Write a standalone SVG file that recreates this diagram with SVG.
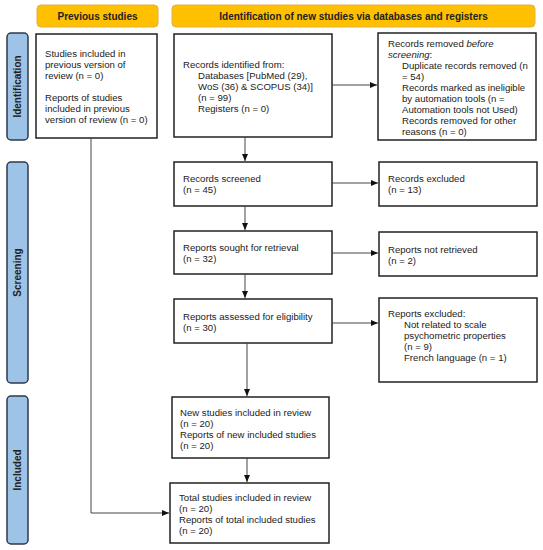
<svg xmlns="http://www.w3.org/2000/svg" width="543" height="550" viewBox="0 0 543 550">
<defs>
<marker id="ah" markerWidth="8" markerHeight="8" refX="7" refY="4" orient="auto" markerUnits="userSpaceOnUse">
<path d="M0,1 L7,4 L0,7 Z" fill="#111"/>
</marker>
<style>
.hdr{fill:#FFC000;stroke:#E2B045;stroke-width:1}
.side{fill:#9DC3E6;stroke:#2E3A4A;stroke-width:1.5}
.box{fill:#fff;stroke:#222;stroke-width:1.5}
.t{font-family:"Liberation Sans",Arial,sans-serif;font-size:9.6px;fill:#222}
.h{font-family:"Liberation Sans",Arial,sans-serif;font-size:10px;font-weight:bold;fill:#222}
.c{fill:none;stroke:#444;stroke-width:1}
</style>
</defs>
<rect width="543" height="550" fill="#fff"/>
<g id="hdr-prev"><rect class="hdr" x="37" y="5" width="121" height="22" rx="4"/><text class="h" x="97.5" y="19.5" text-anchor="middle">Previous studies</text></g>
<g id="hdr-new"><rect class="hdr" x="172" y="5" width="363" height="22" rx="4"/><text class="h" x="353.5" y="19.5" text-anchor="middle">Identification of new studies via databases and registers</text></g>
<g id="side-identification"><rect class="side" x="7" y="33" width="21" height="107" rx="4"/><text class="h" transform="translate(21,86.5) rotate(-90)" text-anchor="middle">Identification</text></g>
<g id="side-screening"><rect class="side" x="7" y="162" width="21" height="221" rx="4"/><text class="h" transform="translate(21,272.5) rotate(-90)" text-anchor="middle">Screening</text></g>
<g id="side-included"><rect class="side" x="7" y="396" width="21" height="148" rx="4"/><text class="h" transform="translate(21,470) rotate(-90)" text-anchor="middle">Included</text></g>
<g id="prev"><rect class="box" x="36" y="34" width="121" height="104"/>
<text class="t"><tspan x="45" y="57">Studies included in</tspan><tspan x="45" y="68">previous version of</tspan><tspan x="45" y="79">review (n = 0)</tspan><tspan x="45" y="101">Reports of studies</tspan><tspan x="45" y="112">included in previous</tspan><tspan x="45" y="123">version of review (n = 0)</tspan></text></g>
<g id="identified"><rect class="box" x="174" y="34" width="158" height="103"/>
<text class="t"><tspan x="183" y="68">Records identified from:</tspan><tspan x="198" y="79">Databases [PubMed (29),</tspan><tspan x="198" y="90">WoS (36) &amp; SCOPUS (34)]</tspan><tspan x="198" y="101">(n = 99)</tspan><tspan x="198" y="112">Registers (n = 0)</tspan></text></g>
<g id="removed"><rect class="box" x="378" y="33" width="158" height="107"/>
<text class="t"><tspan x="388" y="47">Records removed <tspan font-style="italic">before</tspan></tspan><tspan x="388" y="58" font-style="italic">screening</tspan><tspan>:</tspan><tspan x="402" y="69">Duplicate records removed (n</tspan><tspan x="402" y="80">= 54)</tspan><tspan x="402" y="91">Records marked as ineligible</tspan><tspan x="402" y="102">by automation tools (n =</tspan><tspan x="402" y="113">Automation tools not Used)</tspan><tspan x="402" y="124">Records removed for other</tspan><tspan x="402" y="135">reasons (n = 0)</tspan></text></g>
<g id="screened"><rect class="box" x="174" y="162" width="158" height="44"/>
<text class="t"><tspan x="183" y="182">Records screened</tspan><tspan x="183" y="193">(n = 45)</tspan></text></g>
<g id="excluded"><rect class="box" x="379" y="162" width="158" height="44"/>
<text class="t"><tspan x="388" y="182">Records excluded</tspan><tspan x="388" y="193">(n = 13)</tspan></text></g>
<g id="sought"><rect class="box" x="174" y="231" width="158" height="43"/>
<text class="t"><tspan x="183" y="251">Reports sought for retrieval</tspan><tspan x="183" y="262">(n = 32)</tspan></text></g>
<g id="notretrieved"><rect class="box" x="379" y="232" width="158" height="44"/>
<text class="t"><tspan x="388" y="253">Reports not retrieved</tspan><tspan x="388" y="264">(n = 2)</tspan></text></g>
<g id="assessed"><rect class="box" x="174" y="299" width="158" height="44"/>
<text class="t"><tspan x="183" y="320">Reports assessed for eligibility</tspan><tspan x="183" y="331">(n = 30)</tspan></text></g>
<g id="repexcluded"><rect class="box" x="379" y="298" width="158" height="84"/>
<text class="t"><tspan x="388" y="317">Reports excluded:</tspan><tspan x="404" y="328">Not related to scale</tspan><tspan x="404" y="339">psychometric properties</tspan><tspan x="404" y="350">(n = 9)</tspan><tspan x="404" y="361">French language (n = 1)</tspan></text></g>
<g id="newstudies"><rect class="box" x="172" y="397" width="157" height="61"/>
<text class="t"><tspan x="180" y="416">New studies included in review</tspan><tspan x="180" y="427">(n = 20)</tspan><tspan x="180" y="438">Reports of new included studies</tspan><tspan x="180" y="449">(n = 20)</tspan></text></g>
<g id="total"><rect class="box" x="170" y="483" width="159" height="60"/>
<text class="t"><tspan x="179" y="501">Total studies included in review</tspan><tspan x="179" y="512">(n = 20)</tspan><tspan x="179" y="523">Reports of total included studies</tspan><tspan x="179" y="534">(n = 20)</tspan></text></g>
<g id="connectors">
<path class="c" d="M245,137 V161" marker-end="url(#ah)"/>
<path class="c" d="M332,85 H377" marker-end="url(#ah)"/>
<path class="c" d="M245,206 V230" marker-end="url(#ah)"/>
<path class="c" d="M332,183 H378" marker-end="url(#ah)"/>
<path class="c" d="M245,274 V298" marker-end="url(#ah)"/>
<path class="c" d="M332,253 H378" marker-end="url(#ah)"/>
<path class="c" d="M332,323 H378" marker-end="url(#ah)"/>
<path class="c" d="M247,343 V396" marker-end="url(#ah)"/>
<path class="c" d="M247,458 V482" marker-end="url(#ah)"/>
<path class="c" d="M91,138 V513 H169" marker-end="url(#ah)"/>
</g>
</svg>
